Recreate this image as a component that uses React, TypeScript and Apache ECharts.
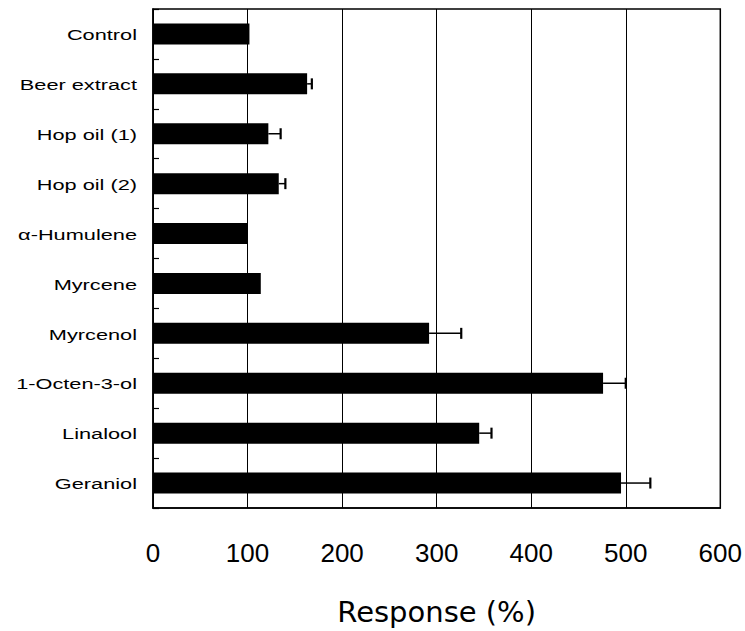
import React, { useEffect, useRef } from "react";
import * as echarts from "echarts";

const categories = [
  "Control",
  "Beer extract",
  "Hop oil (1)",
  "Hop oil (2)",
  "α-Humulene",
  "Myrcene",
  "Myrcenol",
  "1-Octen-3-ol",
  "Linalool",
  "Geraniol",
];
const responses = [102, 163, 122, 133, 100, 114, 292, 476, 345, 495];
const errors = [0, 5, 13, 7, 0, 0, 34, 24, 13, 31];
const xTicks = [0, 100, 200, 300, 400, 500, 600];

export default function App() {
  const ref = useRef<HTMLDivElement>(null);
  useEffect(() => {
    if (!ref.current) return;
    const chart = echarts.init(ref.current, null, { renderer: "svg" });
    const gridLeft = 153;
    chart.setOption({
      animation: false,
      backgroundColor: "#fff",
      grid: {
        left: gridLeft,
        right: 24,
        top: 9,
        bottom: 118,
        show: true,
        borderColor: "#000",
        borderWidth: 1.5,
      },
      xAxis: {
        type: "value",
        min: xTicks[0],
        max: xTicks[xTicks.length - 1],
        interval: 100,
        name: "Response (%)",
        nameLocation: "middle",
        nameGap: 89,
        nameTextStyle: {
          fontFamily: "DejaVu Sans",
          fontSize: 29,
          color: "#000",
        },
        axisLine: { show: true, lineStyle: { color: "#000", width: 1.5 } },
        axisTick: { show: false },
        splitLine: { show: true, lineStyle: { color: "#000", width: 1 } },
        axisLabel: {
          margin: 32,
          fontFamily: "Liberation Sans",
          fontSize: 26,
          color: "#000",
        },
      },
      yAxis: {
        type: "category",
        data: categories,
        inverse: true,
        axisLine: { show: true, lineStyle: { color: "#000", width: 1.5 } },
        axisTick: {
          show: true,
          inside: true,
          length: 6,
          lineStyle: { color: "#000", width: 1.2 },
        },
        axisLabel: { show: false },
        splitLine: { show: false },
      },
      series: [
        {
          type: "bar",
          data: responses,
          barWidth: 21,
          itemStyle: { color: "#000" },
          z: 2,
        },
        {
          type: "custom",
          data: responses.map((v, i) => [v, i, errors[i]]),
          encode: { x: 0, y: 1 },
          z: 3,
          renderItem: (params: any, api: any) => {
            const v = api.value(0);
            const c = api.value(1);
            const e = api.value(2);
            if (!e) return null;
            const p0 = api.coord([v, c]);
            const p1 = api.coord([v + e, c]);
            const h = 11;
            return {
              type: "group",
              children: [
                {
                  type: "line",
                  shape: { x1: p0[0], y1: p0[1], x2: p1[0], y2: p1[1] },
                  style: { stroke: "#000", lineWidth: 1.5 },
                },
                {
                  type: "line",
                  shape: { x1: p1[0], y1: p1[1] - h / 2, x2: p1[0], y2: p1[1] + h / 2 },
                  style: { stroke: "#000", lineWidth: 2.2 },
                },
              ],
            };
          },
        },
      ],
    });
    const labels = categories.map((c) => {
      const y = chart.convertToPixel({ yAxisIndex: 0 }, c) as number;
      return {
        type: "text",
        x: gridLeft - 16,
        y: y + 1,
        scaleX: 1.45,
        style: {
          text: c,
          fontFamily: "Liberation Sans",
          fontSize: 15,
          fill: "#000",
          textAlign: "right",
          textVerticalAlign: "middle",
        },
      };
    });
    chart.setOption({ graphic: labels });
    return () => chart.dispose();
  }, []);
  return (
    <div
      ref={ref}
      style={{ position: "fixed", left: 0, top: 0, width: 745, height: 631 }}
    />
  );
}
